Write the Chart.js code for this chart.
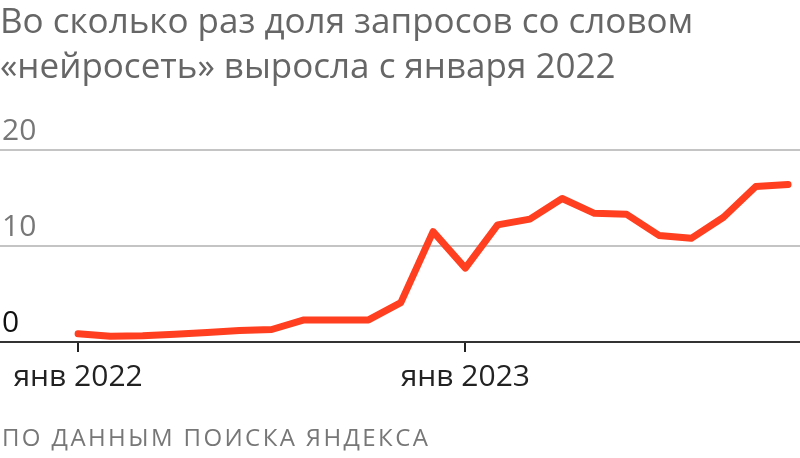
<!DOCTYPE html>
<html lang="ru">
<head>
<meta charset="utf-8">
<script src="https://cdn.jsdelivr.net/npm/chart.js@4"></script>
<style>
  html, body { margin: 0; padding: 0; background: #fff; }
  #wrap { position: relative; width: 800px; height: 458px; overflow: hidden; font-family: "Open Sans", sans-serif; }
  #title { position: absolute; left: 0; top: -3px; font-size: 35px; line-height: 45px; color: #666; white-space: nowrap; }
  #source { position: absolute; left: 2px; top: 420px; font-size: 24px; letter-spacing: 2.4px; color: #777; white-space: nowrap; }
  #box { position: absolute; left: 0; top: 0; width: 800px; height: 458px; }
</style>
</head>
<body>
<div id="wrap">
  <div id="box"><canvas id="mainChart"></canvas></div>
  <div id="title">Во сколько раз доля запросов со словом<br>«нейросеть» выросла с января 2022</div>
  <div id="source">ПО ДАННЫМ ПОИСКА ЯНДЕКСА</div>
</div>
<script>
// месяцы с янв 2022 по ноя 2023
const months = ["янв 2022","фев 2022","мар 2022","апр 2022","май 2022","июн 2022","июл 2022","авг 2022","сен 2022","окт 2022","ноя 2022","дек 2022",
  "янв 2023","фев 2023","мар 2023","апр 2023","май 2023","июн 2023","июл 2023","авг 2023","сен 2023","окт 2023","ноя 2023"];
const growth = [0.85, 0.6, 0.65, 0.8, 1.0, 1.2, 1.3, 2.3, 2.3, 2.3, 4.1, 11.5,
  7.7, 12.2, 12.8, 14.95, 13.4, 13.3, 11.1, 10.8, 13.0, 16.2, 16.4];
const xTickIdx = [0, 12];
const yTicks = [0, 10, 20];

new Chart("mainChart", {
  type: "line",
  data: {
    datasets: [{
      data: growth.map((v, i) => ({ x: i, y: v })),
      borderColor: "#ff3f1f",
      borderWidth: 7,
      borderCapStyle: "round",
      borderJoinStyle: "round",
      pointRadius: 0,
      tension: 0,
      fill: false
    }]
  },
  options: {
    responsive: true,
    maintainAspectRatio: false,
    animation: false,
    layout: { padding: { top: 150, bottom: 56, left: 0, right: 0 } },
    plugins: { legend: { display: false }, tooltip: { enabled: false } },
    scales: {
      x: {
        type: "linear",
        min: -2.42,
        max: 22.37,
        afterBuildTicks: (scale) => { scale.ticks = xTickIdx.map(v => ({ value: v })); },
        ticks: {
          callback: (v) => months[v],
          color: "#222",
          font: { family: "Open Sans", size: 30 },
          padding: 7,
          maxRotation: 0,
          autoSkip: false
        },
        grid: { drawOnChartArea: false, drawTicks: true, tickLength: 10, color: "#222", lineWidth: 2 },
        border: { display: true, color: "#333", width: 2 }
      },
      y: {
        min: 0,
        max: 20,
        afterBuildTicks: (scale) => { scale.ticks = yTicks.map(v => ({ value: v })); },
        afterFit: (scale) => { scale.width = 0; },
        ticks: {
          mirror: true,
          padding: 2,
          labelOffset: -19,
          color: (c) => c.tick && c.tick.value === 0 ? "#111" : "#777",
          font: { family: "Open Sans", size: 30 }
        },
        grid: { color: "#c4c4c4", lineWidth: 2, drawTicks: false },
        border: { display: false }
      }
    }
  }
});
</script>
</body>
</html>
